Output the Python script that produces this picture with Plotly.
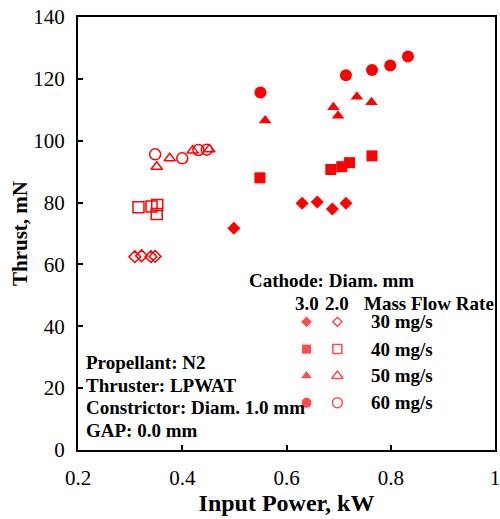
import plotly.graph_objects as go

# ---- data: (power kW, thrust mN) ----
c30_x = [0.499, 0.630, 0.659, 0.688, 0.714]
c30_y = [71.7, 79.8, 80.2, 77.9, 79.8]
c40_x = [0.549, 0.685, 0.706, 0.721, 0.764]
c40_y = [88.0, 90.7, 91.6, 92.9, 95.1]
c50_x = [0.559, 0.690, 0.699, 0.735, 0.763]
c50_y = [106.5, 110.8, 108.1, 114.2, 112.4]
c60_x = [0.550, 0.714, 0.764, 0.799, 0.833]
c60_y = [115.6, 121.2, 122.9, 124.3, 127.2]

o30_x = [0.309, 0.322, 0.340, 0.348]
o30_y = [62.5, 62.8, 62.5, 62.6]
o40_x = [0.316, 0.341, 0.352, 0.351]
o40_y = [78.5, 78.7, 79.2, 76.3]
o50_x = [0.351, 0.376, 0.420, 0.452]
o50_y = [91.6, 94.3, 96.8, 97.2]
o60_x = [0.348, 0.400, 0.431, 0.447]
o60_y = [95.6, 94.3, 97.0, 97.1]

rates = ["30 mg/s", "40 mg/s", "50 mg/s", "60 mg/s"]
info_lines = ["Propellant: N2", "Thruster: LPWAT",
              "Constrictor: Diam. 1.0 mm", "GAP: 0.0 mm"]

RED = "#ff0000"
FONT = "Liberation Serif"

fig = go.Figure()

filled = [(c30_x, c30_y, "diamond", 10), (c40_x, c40_y, "square", 11),
          (c50_x, c50_y, "triangle-up", 11), (c60_x, c60_y, "circle", 12)]
opened = [(o30_x, o30_y, "diamond-open", 9), (o40_x, o40_y, "square-open", 11),
          (o50_x, o50_y, "triangle-up-open", 10), (o60_x, o60_y, "circle-open", 11)]

for xs, ys, sym, sz in filled:
    fig.add_trace(go.Scatter(x=xs, y=ys, mode="markers",
                             marker=dict(symbol=sym, size=sz, color=RED),
                             showlegend=False))
for xs, ys, sym, sz in opened:
    fig.add_trace(go.Scatter(x=xs, y=ys, mode="markers",
                             marker=dict(symbol=sym, size=sz, color=RED,
                                         line=dict(width=1.5, color=RED)),
                             showlegend=False))

# legend keys on an overlay axis (paper-like 0..1)
row_y = [0.296, 0.233, 0.171, 0.109]
key_sym_f = ["diamond", "square", "triangle-up", "circle"]
key_sym_o = ["diamond-open", "square-open", "triangle-up-open", "circle-open"]
key_sz_f = [9, 10, 11, 11]
key_sz_o = [7, 9, 10, 10]
fig.add_trace(go.Scatter(x=[0.548] * 4, y=row_y, mode="markers", xaxis="x2", yaxis="y2",
                         marker=dict(symbol=key_sym_f, size=key_sz_f, color=RED),
                         showlegend=False))
fig.add_trace(go.Scatter(x=[0.622] * 4, y=row_y, mode="markers", xaxis="x2", yaxis="y2",
                         marker=dict(symbol=key_sym_o, size=key_sz_o, color=RED,
                                     line=dict(width=1.5, color=RED)),
                         showlegend=False))

ann = []
def txt(x, y, s, xanchor="left", size=19):
    ann.append(dict(x=x, y=y, xref="paper", yref="paper", text="<b>" + s + "</b>",
                    showarrow=False, xanchor=xanchor, yanchor="middle", borderpad=0,
                    font=dict(family=FONT, size=size, color="black")))

txt(0.408, 0.391, "Cathode: Diam. mm")
txt(0.548, 0.338, "3.0", "center")
txt(0.622, 0.338, "2.0", "center")
txt(0.683, 0.338, "Mass Flow Rate")
for r, yy in zip(rates, row_y):
    txt(0.700, yy, r)
for line, yy in zip(info_lines, [0.201, 0.150, 0.099, 0.046]):
    txt(0.017, yy, line)

fig.update_layout(
    width=500, height=519,
    margin=dict(l=78, r=5, t=17, b=69),
    paper_bgcolor="white", plot_bgcolor="white",
    font=dict(family=FONT, size=21, color="black"),
    annotations=ann,
    xaxis=dict(range=[0.2, 1.0], dtick=0.2, tick0=0.2, ticks="inside", ticklen=5,
               tickwidth=1.5, tickcolor="black", showline=True, linecolor="black",
               linewidth=2, mirror=True, showgrid=False, zeroline=False,
               tickformat="~g", automargin=False, ticklabelstandoff=8,
               ticklabeloverflow="allow",
               title=dict(text="<b>Input Power, kW</b>", font=dict(size=24), standoff=2),
               tickfont=dict(size=21)),
    yaxis=dict(range=[0, 140], dtick=20, ticks="inside", ticklen=5,
               tickwidth=1.5, tickcolor="black", showline=True, linecolor="black",
               linewidth=2, mirror=True, showgrid=False, zeroline=False,
               automargin=False, ticklabelstandoff=7, ticklabeloverflow="allow",
               title=dict(text="<b>Thrust, mN</b>", font=dict(size=21), standoff=0),
               tickfont=dict(size=21)),
    xaxis2=dict(range=[0, 1], overlaying="x", visible=False),
    yaxis2=dict(range=[0, 1], overlaying="y", visible=False),
)

fig.write_html("out.html", config={"displayModeBar": False},
               post_script="document.body.style.margin='0';")
